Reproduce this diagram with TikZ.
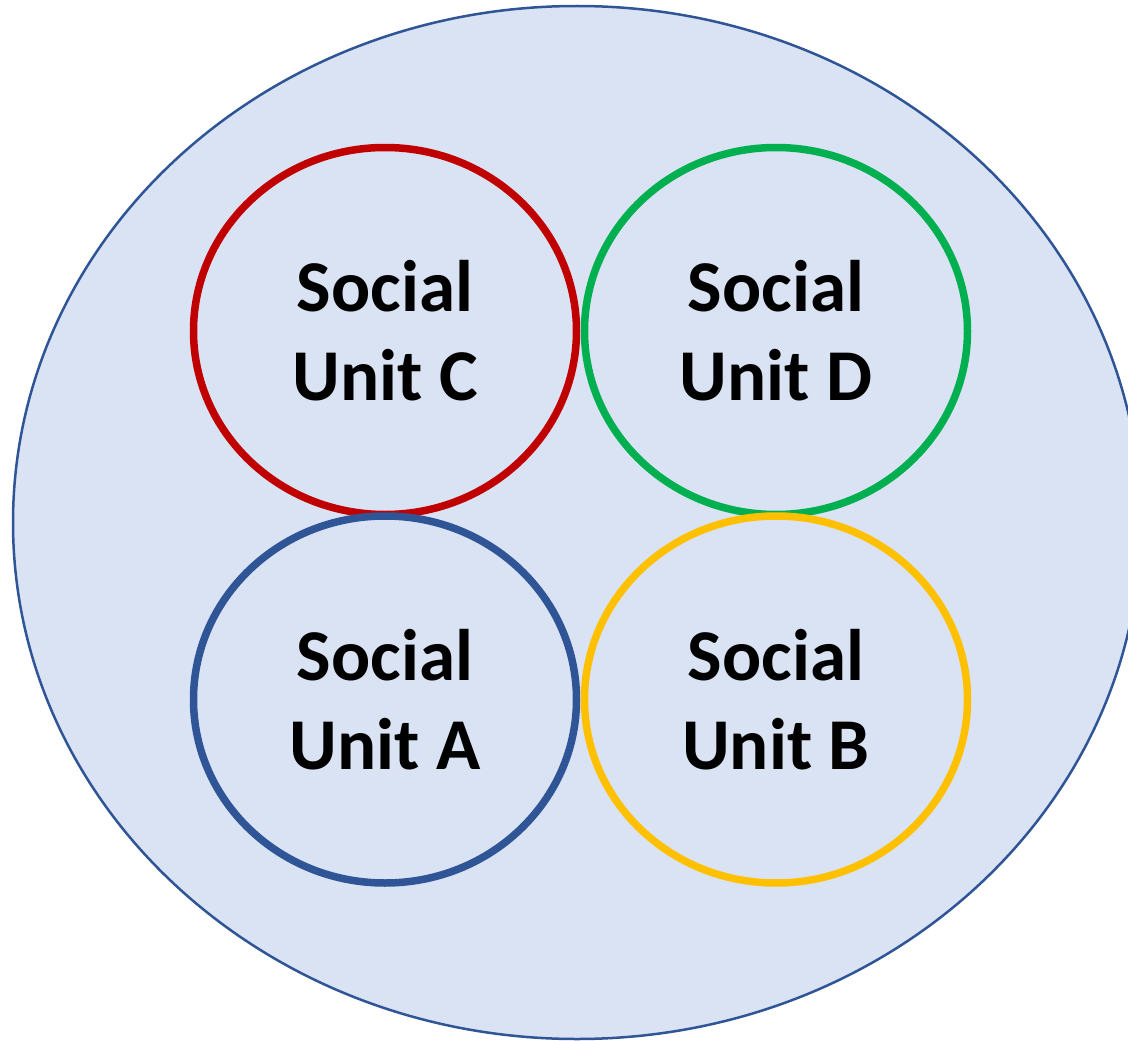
\documentclass[tikz,border=0pt]{standalone}
\usepackage{fontspec}
\setmainfont{Carlito}
\usetikzlibrary{shapes.geometric}

\definecolor{groupfill}{HTML}{DAE3F3}
\definecolor{groupline}{HTML}{2F5597}
\definecolor{unitred}{HTML}{C00000}
\definecolor{unitgreen}{HTML}{00B050}
\definecolor{unitblue}{HTML}{2F5597}
\definecolor{unitgold}{HTML}{FFC000}

\tikzset{
  unit/.style={ellipse, line width=7.5pt, minimum width=383pt, minimum height=367pt,
    align=center, font=\fontsize{73}{89}\selectfont\bfseries},
}

\begin{document}
\begin{tikzpicture}[x=1pt, y=-1pt]
  \useasboundingbox (0,0) rectangle (1128,1041);
  \clip (0,0) rectangle (1128,1041);

  % the whole group
  \draw[groupline, fill=groupfill, line width=2.5pt] (577,522.5) ellipse [x radius=564, y radius=516.5];

  % the four social units
  \node[unit, draw=unitred]   (C) at (385,331) {Social\\Unit C};
  \node[unit, draw=unitgreen] (D) at (776,331) {Social\\Unit D};
  \node[unit, draw=unitblue]  (A) at (385,699.5) {Social\\Unit A};
  \node[unit, draw=unitgold]  (B) at (776,699.5) {Social\\Unit B};
\end{tikzpicture}
\end{document}
